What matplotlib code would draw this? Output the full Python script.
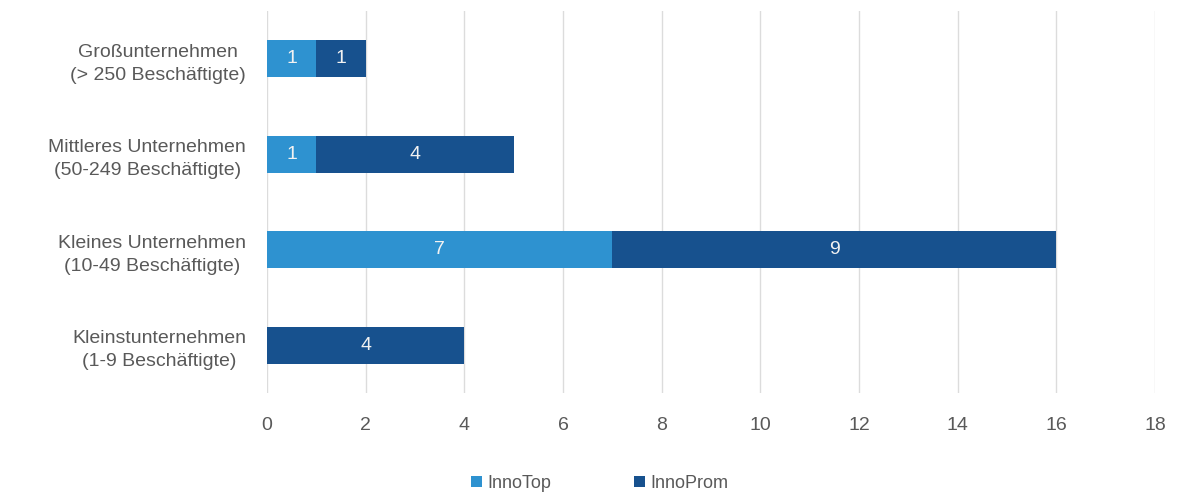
import matplotlib
matplotlib.use("Agg")
import matplotlib.pyplot as plt
import numpy as np

# categories from top to bottom as in the chart
categories = ["Großunternehmen\n(> 250 Beschäftigte)",
              "Mittleres Unternehmen\n(50-249 Beschäftigte)",
              "Kleines Unternehmen\n(10-49 Beschäftigte)",
              "Kleinstunternehmen\n(1-9 Beschäftigte)"]
innotop = [1, 1, 7, 0]
innoprom = [1, 4, 9, 4]
series_names = ["InnoTop", "InnoProm"]
xticks = list(range(0, 19, 2))

C_TOP, C_PROM = "#2E92D0", "#17518E"
TXT = "#595959"

plt.rcParams["font.family"] = ["Liberation Sans", "DejaVu Sans"]

fig = plt.figure(figsize=(11.78, 4.95), dpi=100)
ax = fig.add_axes([0.2267, 0.206, 0.7538, 0.772])

y = np.arange(len(categories))
h = 0.39
b1 = ax.barh(y, innotop, height=h, color=C_TOP, label=series_names[0], zorder=3)
b2 = ax.barh(y, innoprom, left=innotop, height=h, color=C_PROM, label=series_names[1], zorder=3)

for bars, vals in ((b1, innotop), (b2, innoprom)):
    for rect, v in zip(bars, vals):
        if v > 0:
            ax.text(rect.get_x() + rect.get_width() / 2, rect.get_y() + rect.get_height() / 2,
                    str(v), ha="center", va="center", color="#f2f2f2", fontsize=14, zorder=4)

ax.set_ylim(len(categories) - 0.5, -0.5)
ax.set_xlim(0, 18)
ax.set_xticks(xticks)
ax.set_yticks(y)
ax.set_yticklabels(categories, multialignment="center", linespacing=1.45)
ax.tick_params(axis="both", length=0, colors=TXT)
ax.tick_params(axis="x", pad=17, labelsize=14)
ax.tick_params(axis="y", pad=15, labelsize=14)
ax.grid(axis="x", color="#dcdcdc", linewidth=1.0, zorder=0)
for s in ax.spines.values():
    s.set_visible(False)

fig.legend(handles=[b1, b2], labels=series_names, loc="center", bbox_to_anchor=(0.509, 0.024),
           ncol=2, frameon=False, fontsize=13, handlelength=0.6, handleheight=0.6,
           columnspacing=4.6, handletextpad=0.3, labelcolor=TXT)

fig.savefig("out.png", dpi=100)
